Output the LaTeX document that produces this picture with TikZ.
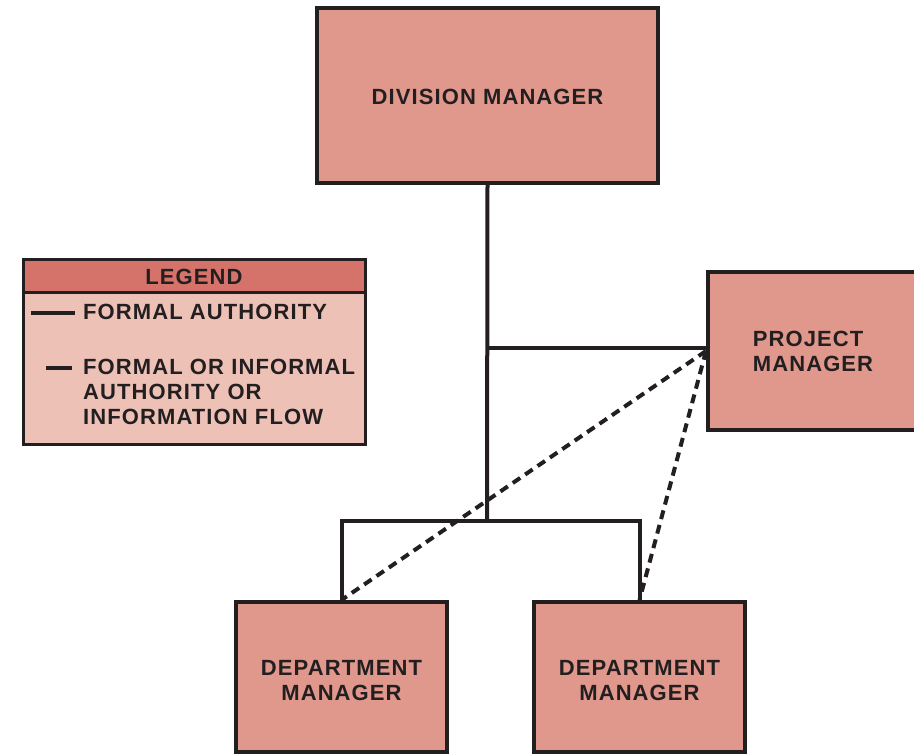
\documentclass[tikz,border=0pt]{standalone}
\usepackage{fontspec}
\setmainfont{Liberation Sans}[LetterSpace=5]
\usetikzlibrary{calc}
\definecolor{boxfill}{RGB}{224,151,140}
\definecolor{leghead}{RGB}{213,115,106}
\definecolor{legbody}{RGB}{238,193,182}
\definecolor{ink}{RGB}{35,31,32}
\tikzset{
  txt/.style={font=\bfseries\fontsize{22}{25}\selectfont, text=ink, align=center},
  mgr/.style={txt, draw=ink, line width=4pt, fill=boxfill, inner sep=0pt},
  solidline/.style={draw=ink, line width=4pt},
  dashline/.style={draw=ink, line width=4pt, dash pattern=on 9pt off 6pt},
  legframe/.style={draw=ink, line width=3pt, inner sep=0pt},
  legtext/.style={txt, align=left, anchor=west, inner sep=0pt},
}
\begin{document}
\begin{tikzpicture}[x=1pt, y=-1pt]
\useasboundingbox (0,0) rectangle (914,754);
\clip (0,0) rectangle (914,754);
% managers
\node[mgr, minimum width=341pt, minimum height=175pt, text height=18.5pt] (dm) at (487.5,95.5) {DIVISION MANAGER};
\node[mgr, minimum width=210pt, minimum height=158pt, text height=35.5pt] (pm) at (813,351) {\begin{tabular}{@{}l@{}}PROJECT\\MANAGER\end{tabular}};
\node[mgr, minimum width=211pt, minimum height=150pt, text height=47.5pt] (d1) at (341.5,677) {DEPARTMENT\\MANAGER};
\node[mgr, minimum width=211pt, minimum height=150pt, text height=47.5pt] (d2) at (639.5,677) {DEPARTMENT\\MANAGER};
% junctions
\coordinate (j1) at (487,348);
\coordinate (j2) at (487,521);
% formal authority lines
\draw[solidline] (dm.south) -- (j2);
\draw[solidline] (j1) -- (j1 -| pm.west);
\draw[solidline, line join=miter] (d1.north) |- (j2) -| (d2.north);
% informal lines
\draw[dashline] (pm.west) -- (d1.north);
\draw[dashline] (pm.west) -- (d2.north);
% legend
\node[legframe, fill=legbody, minimum width=342pt, minimum height=184pt] (leg) at (194,352) {};
\node[legframe, fill=leghead, minimum width=342pt, minimum height=33pt, txt] (legh) at (194,276.5) {LEGEND};
\node[legtext] (lt1) at (83,312) {FORMAL AUTHORITY};
\node[legtext] (lt2) at (83,392) {FORMAL OR INFORMAL\\AUTHORITY OR\\INFORMATION FLOW};
\coordinate (s1a) at (31,313);
\coordinate (s1b) at (75,313);
\coordinate (s2a) at (46,368);
\coordinate (s2b) at (72,368);
\draw[solidline] (s1a) -- (s1b);
\draw[solidline] (s2a) -- (s2b);
\end{tikzpicture}
\end{document}
